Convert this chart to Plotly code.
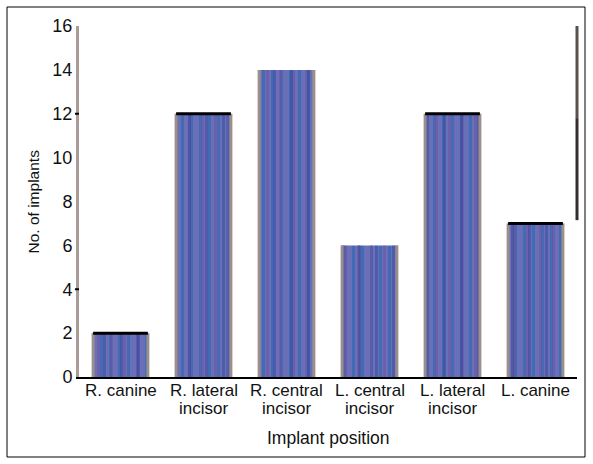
import plotly.graph_objects as go

positions = ["R. canine", "R. lateral<br>incisor", "R. central<br>incisor",
             "L. central<br>incisor", "L. lateral<br>incisor", "L. canine"]
implants = [2, 12, 14, 6, 12, 7]
capped = [True, True, False, False, True, True]
y_ticks = [0, 2, 4, 6, 8, 10, 12, 14, 16]
marked_ticks = [4, 12]

font = "Liberation Sans, Arial, sans-serif"
xs = list(range(len(positions)))
bar_w = 0.66

# plot area in pixels, used to place titles and frame in paper units
PW, PH = 498, 351

fig = go.Figure()
# base bars with blue vertical stripes
fig.add_trace(go.Bar(
    x=xs, y=implants, width=bar_w,
    marker=dict(color="#6a70b8", line=dict(width=0),
                pattern=dict(shape="|", fgcolor="#1a66b0", size=9, solidity=0.33)),
    hoverinfo="skip", showlegend=False,
))
# purple and dark-blue stripe overlays
for col, sz, sol in [("#6f4e9e", 13, 0.24), ("#33489e", 17, 0.18)]:
    fig.add_trace(go.Bar(
        x=xs, y=implants, width=bar_w,
        marker=dict(color="rgba(0,0,0,0)", line=dict(width=0),
                    pattern=dict(shape="|", fgcolor=col, bgcolor="rgba(0,0,0,0)",
                                 size=sz, solidity=sol)),
        hoverinfo="skip", showlegend=False,
    ))

shapes = []
for i, (v, c) in enumerate(zip(implants, capped)):
    # grey side edges of each bar
    for dx in (-bar_w / 2, bar_w / 2):
        shapes.append(dict(type="line", xref="x", yref="y", x0=i + dx, x1=i + dx,
                           y0=0, y1=v, line=dict(color="#9b8f8b", width=3)))
    if c:
        shapes.append(dict(type="line", xref="x", yref="y",
                           x0=i - bar_w / 2, x1=i + bar_w / 2, y0=v, y1=v,
                           line=dict(color="black", width=3)))
# short ticks on the value axis
for t in marked_ticks:
    shapes.append(dict(type="line", xref="paper", yref="y", x0=-4 / PW, x1=0,
                       y0=t, y1=t, line=dict(color="black", width=2)))
# right edge line
shapes.append(dict(type="line", xref="paper", yref="y", x0=1, x1=1, y0=11.8, y1=16,
                   line=dict(color="#5a514c", width=3)))
shapes.append(dict(type="line", xref="paper", yref="y", x0=1, x1=1, y0=7.15, y1=11.8,
                   line=dict(color="#332e2b", width=3)))
# outer frame
shapes.append(dict(type="rect", xref="paper", yref="paper",
                   x0=-72 / PW, x1=1 + 8 / PW, y0=-80 / PH, y1=1 + 19 / PH,
                   line=dict(color="black", width=1), fillcolor="rgba(0,0,0,0)"))

annotations = [
    dict(text="Implant position", xref="paper", yref="paper", x=0.5, y=-61 / PH,
         xanchor="center", yanchor="middle", showarrow=False,
         font=dict(size=17.5, family=font, color="#111")),
    dict(text="No. of implants", xref="paper", yref="paper", x=-46 / PW, y=0.5,
         xanchor="center", yanchor="middle", showarrow=False, textangle=-90,
         font=dict(size=15.5, family=font, color="#111")),
]
# category labels, one annotation per text line for tighter line spacing
for i, lab in enumerate(positions):
    for k, line in enumerate(lab.split("<br>")):
        annotations.append(dict(
            text=line, xref="x", yref="paper", x=i, y=-(13 + 18 * k) / PH,
            xanchor="center", yanchor="middle", showarrow=False,
            font=dict(size=17, family=font, color="#111")))

fig.update_layout(
    width=593, height=464,
    margin=dict(l=79, r=16, t=26, b=87),
    paper_bgcolor="white", plot_bgcolor="white",
    barmode="overlay",
    font=dict(family=font, color="#111"),
    shapes=shapes,
    annotations=annotations,
    xaxis=dict(
        tickmode="array", tickvals=xs, showticklabels=False,
        range=[-0.5, len(positions) - 0.5],
        showline=True, linecolor="black", linewidth=2,
        showgrid=False, ticks="",
    ),
    yaxis=dict(
        range=[0, 16], tickvals=y_ticks,
        showline=True, linecolor="#a99c96", linewidth=3,
        showgrid=False, zeroline=False, ticks="",
        tickfont=dict(size=18, family=font, color="#111"),
    ),
)

fig.write_html("out.html")
